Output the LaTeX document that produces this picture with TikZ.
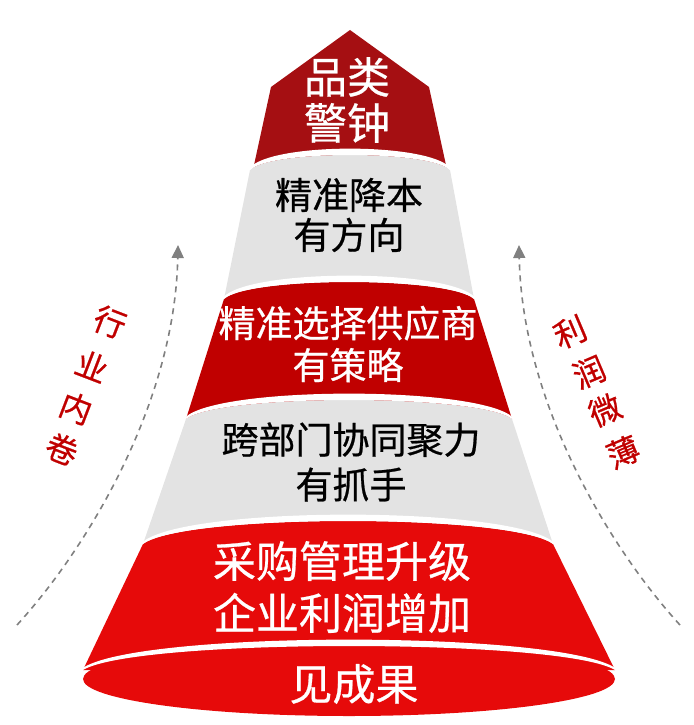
\documentclass[tikz,border=0pt]{standalone}
\usepackage{fontspec}
\newfontfamily\cjk{Noto Sans CJK SC}[FakeBold=0.6]
\usetikzlibrary{arrows.meta}
\definecolor{topred}{HTML}{A50F12}
\definecolor{midred}{HTML}{C00000}
\definecolor{brightred}{HTML}{E60A0A}
\definecolor{bandgray}{HTML}{E3E3E3}
\definecolor{arrowgray}{HTML}{808080}
\newcommand\pyrgap[4]{% xL xR y0 peak
  \pgfmathsetmacro\pgw{#2-#1}%
  \pgfmathsetmacro\pgcl{#3-4/3*(#3-#4)}%
  \pgfmathsetmacro\pgcu{#3-4/3*(#3-#4+6)}%
  \fill[white] ({#1-1},{#3-1.5}) .. controls ({#1+0.1*\pgw},\pgcu) and ({#2-0.1*\pgw},\pgcu) .. ({#2+1},{#3-1.5}) -- (#2,#3) .. controls ({#2-0.1*\pgw},\pgcl) and ({#1+0.1*\pgw},\pgcl) .. (#1,#3) -- cycle;}
\newcommand\pyrband[8]{% color xL xR y0 peak xBL xBR y1
  \pgfmathsetmacro\pbw{#3-#2}%
  \pgfmathsetmacro\pbc{#4-4/3*(#4-#5)}%
  \fill[#1] (#2,#4) .. controls ({#2+0.1*\pbw},\pbc) and ({#3-0.1*\pbw},\pbc) .. (#3,#4) -- (#7,#8) -- (#6,#8) -- cycle;
  \pyrgap{#2}{#3}{#4}{#5}}
\tikzset{
  lab/.style={inner sep=0pt, align=center},
  whitetxt/.style={lab, text=white},
  blacktxt/.style={lab, text=black},
  side/.style={inner sep=0pt, text=midred, font=\cjk\fontsize{32pt}{32pt}\selectfont},
  trendline/.style={draw=arrowgray, line width=1.6pt, dash pattern=on 6pt off 5pt,
    -{Triangle[length=13pt,width=12pt,fill=arrowgray]}}
}
\begin{document}
\begin{tikzpicture}[x=1pt,y=-1pt]
\useasboundingbox (0,0) rectangle (693,725);
% top pentagon
\fill[topred] (350,30) -- (429,87) -- (447.5,172) -- (252.5,172) -- (271,87) -- cycle;
% bands
\pyrband{bandgray}{250}{450}{170}{155}{224}{474}{299}
\pyrband{midred}{224}{474}{299}{282}{186}{512}{419}
\pyrband{bandgray}{186}{512}{419}{400}{143}{553}{544}
\pyrband{brightred}{143}{553}{544}{521}{83}{615}{670}
% base ellipse
\fill[brightred] (349,679) ellipse [x radius=266pt, y radius=37pt];
\pyrgap{83}{615}{670}{646}
% texts
\node[whitetxt, font=\cjk\fontsize{43pt}{46pt}\selectfont] (t1) at (347,100) {品类\\警钟};
\node[blacktxt, font=\cjk\fontsize{37pt}{40pt}\selectfont] (t2) at (349,215) {精准降本\\有方向};
\node[whitetxt, font=\cjk\fontsize{37pt}{42pt}\selectfont] (t3) at (348,344) {精准选择供应商\\有策略};
\node[blacktxt, font=\cjk\fontsize{37pt}{45pt}\selectfont] (t4) at (351,462) {跨部门协同聚力\\有抓手};
\node[whitetxt, font=\cjk\fontsize{43pt}{52pt}\selectfont] (t5) at (342,587) {采购管理升级\\企业利润增加};
\node[whitetxt, font=\cjk\fontsize{43pt}{43pt}\selectfont] (t6) at (354,684) {见成果};
% trend arrows
\coordinate (la0) at (17,625);
\coordinate (la1) at (178,245);
\coordinate (ra0) at (680,625);
\coordinate (ra1) at (519,245);
\draw[trendline] (la0) .. controls (90,545) and (175,400) .. (la1);
\draw[trendline] (ra0) .. controls (607,545) and (522,400) .. (ra1);
% side labels
\node[side, rotate=-21] (l1) at (110,322) {行};
\node[side, rotate=-21] (l2) at (92,366) {业};
\node[side, rotate=-21] (l3) at (76,408) {内};
\node[side, rotate=-21] (l4) at (62,449) {卷};
\node[side, rotate=23] (r1) at (570,332) {利};
\node[side, rotate=23] (r2) at (589,372) {润};
\node[side, rotate=23] (r3) at (605,410) {微};
\node[side, rotate=23] (r4) at (623,452) {薄};
\end{tikzpicture}
\end{document}
